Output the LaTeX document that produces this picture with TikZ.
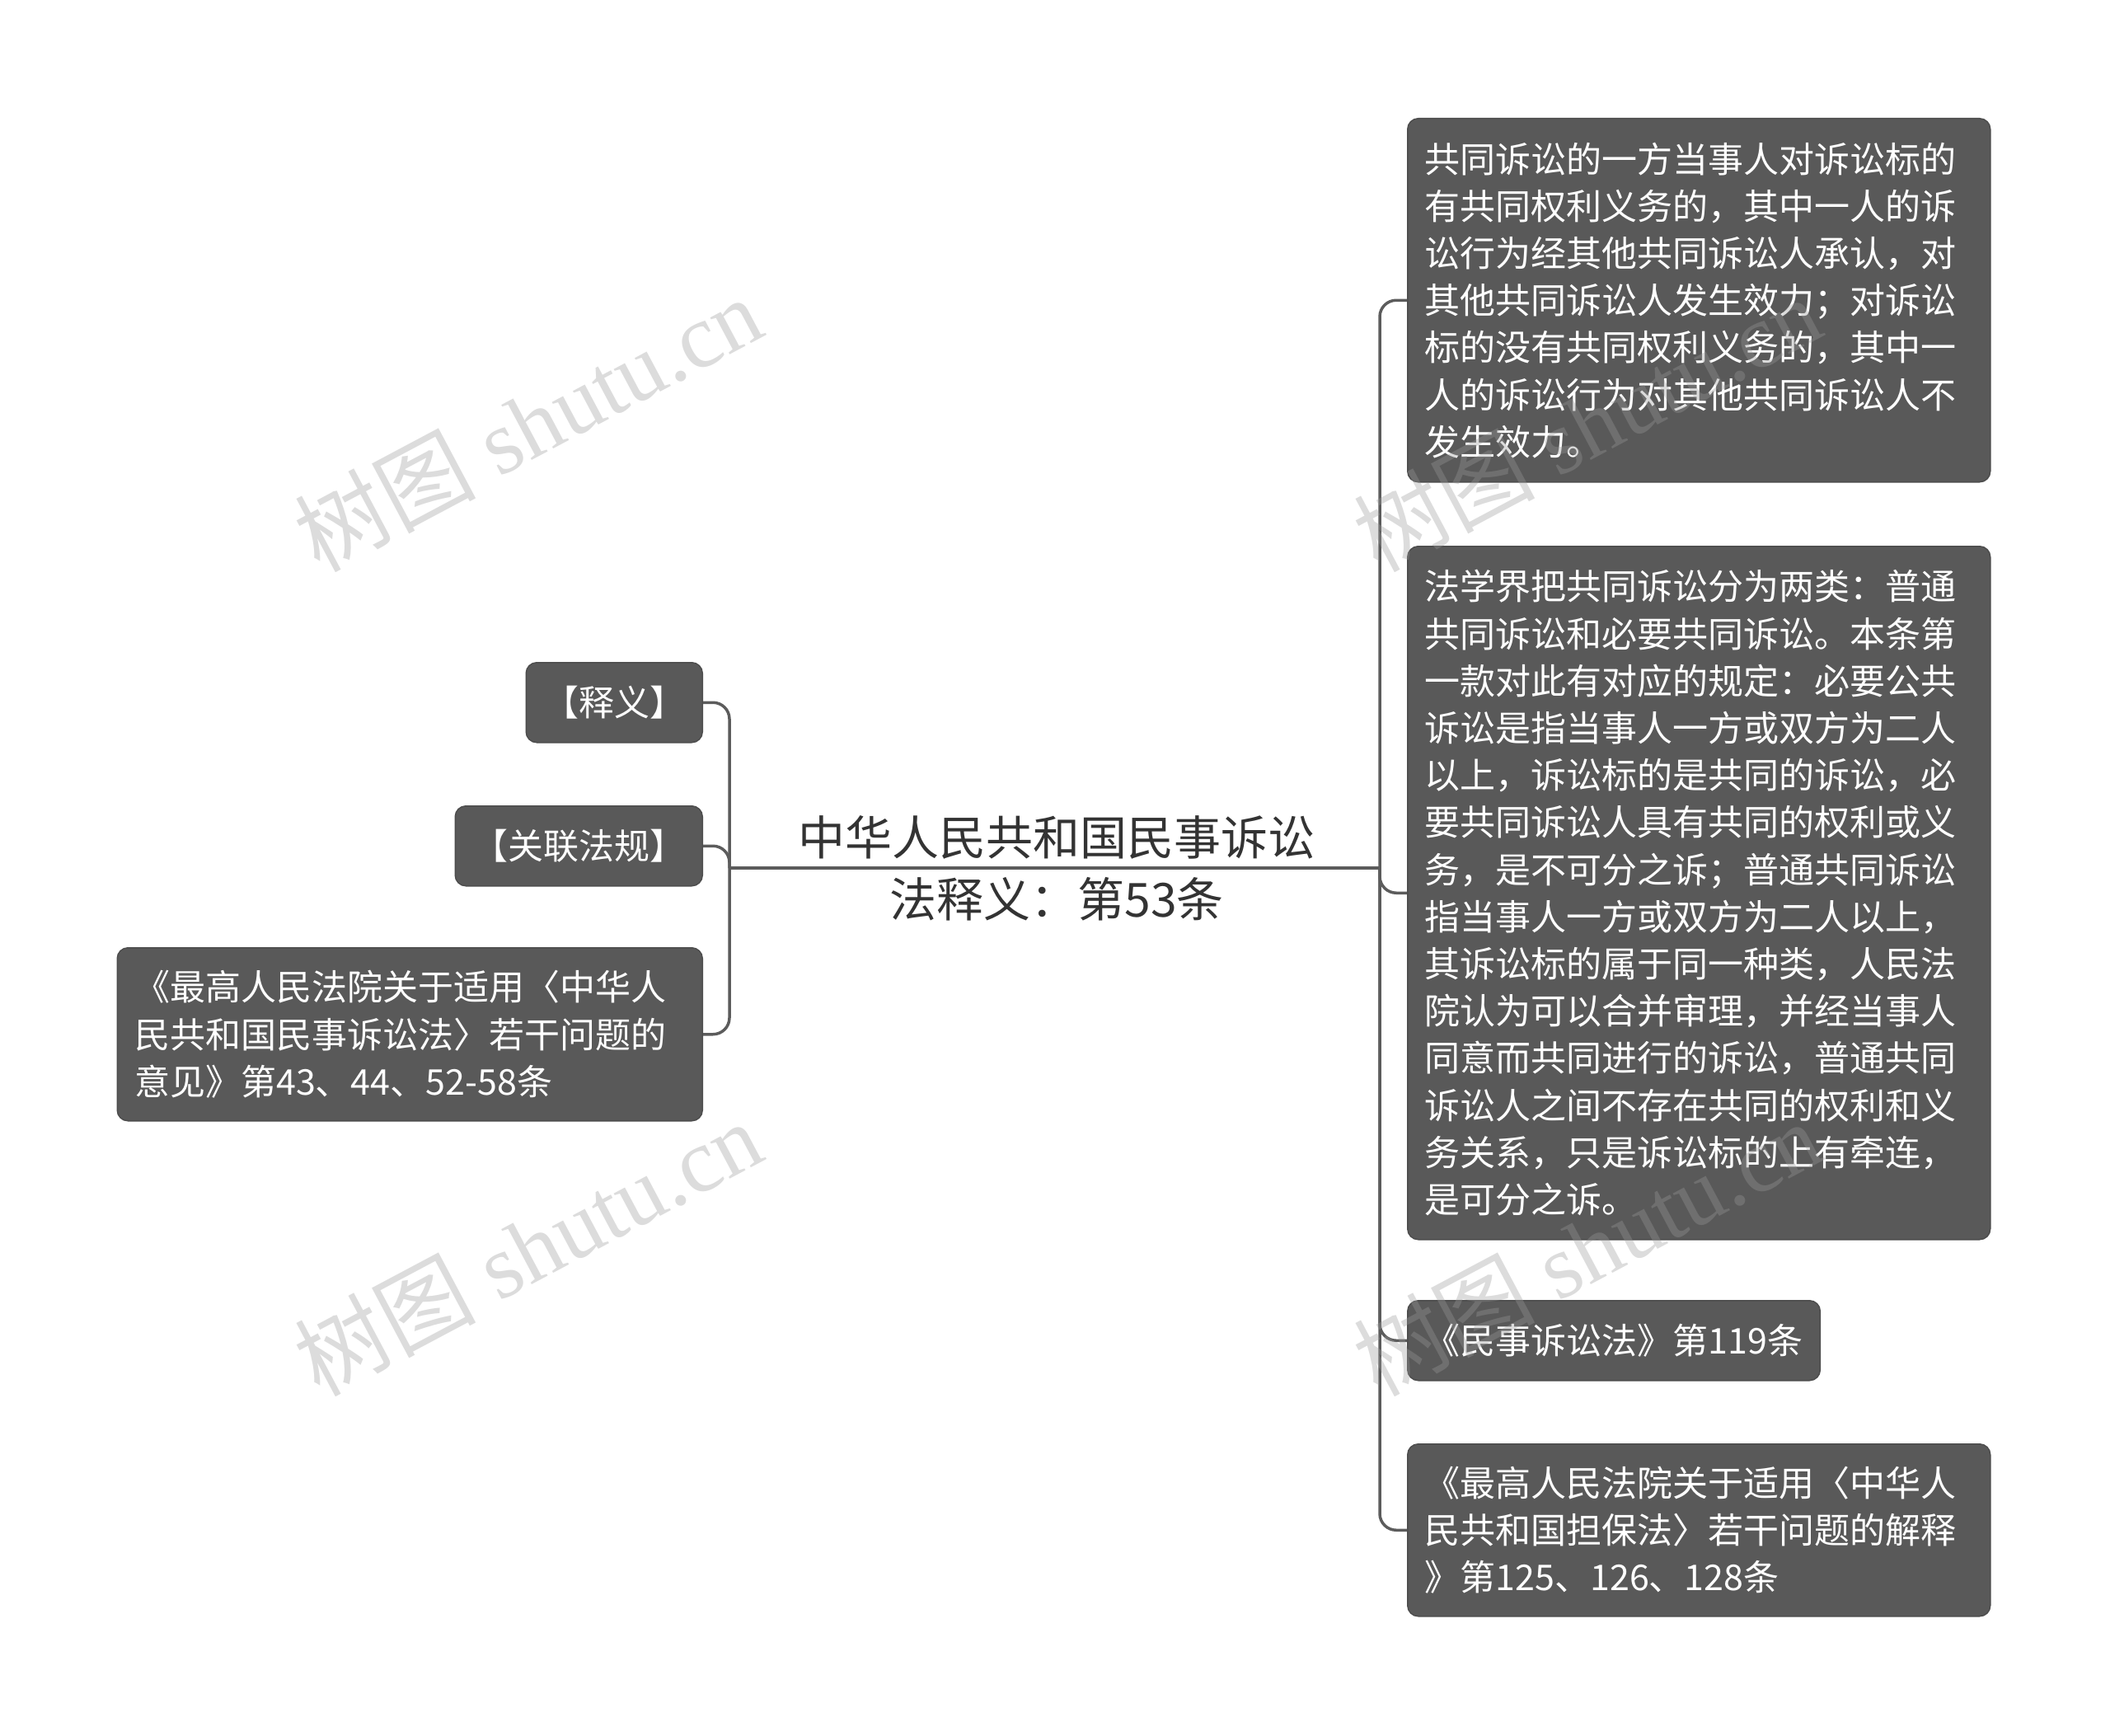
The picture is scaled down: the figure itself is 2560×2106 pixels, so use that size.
\documentclass[tikz,border=0pt]{standalone}
\usepackage{fontspec}
\setmainfont{Liberation Serif}
\newfontfamily\cjk{Noto Sans CJK SC}
\usetikzlibrary{positioning}
\definecolor{boxgray}{HTML}{595959}
\definecolor{boxedge}{HTML}{4D4D4D}
\definecolor{linegray}{HTML}{5C5C5C}
\definecolor{rootink}{HTML}{333333}
\definecolor{markgray}{HTML}{9A9A9A}

\begin{document}
\begin{tikzpicture}[x=1pt,y=-1pt,
  leaf/.style={draw=boxedge,line width=1.5pt,fill=boxgray,rounded corners=13pt,
    text=white,font=\cjk\fontsize{43}{57.2}\selectfont,inner xsep=21pt,inner ysep=0pt,align=left},
  wide/.style={leaf,text width=665pt},
  link/.style={draw=linegray,line width=3.5pt,rounded corners=20pt},
  wmark/.style={text=markgray,opacity=0.35,rotate=28,font=\fontsize{110}{110}\selectfont}]
\useasboundingbox (0,0) rectangle (2560,2106);

% root
\node[font=\cjk\fontsize{57}{75}\selectfont,text=rootink,align=center] (root) at (1282,1053)
  {中华人民共和国民事诉讼\\法释义：第53条};
\coordinate (lj) at (885,1053);
\coordinate (rj) at (1674,1053);

% left side
\node[leaf,anchor=north east,minimum height=97pt] (l1) at (853,803) {【释义】};
\node[leaf,anchor=north east,minimum height=97pt] (l2) at (853,977) {【关联法规】};
\node[leaf,anchor=north east,text width=668pt,minimum height=210pt] (l3) at (853,1149)
  {《最高人民法院关于适用〈中华人\\民共和国民事诉讼法〉若干问题的\\意见》第43、44、52-58条};

% right side
\node[wide,anchor=north west,minimum height=441pt] (r1) at (1707,143)
  {共同诉讼的一方当事人对诉讼标的\\有共同权利义务的，其中一人的诉\\讼行为经其他共同诉讼人承认，对\\其他共同诉讼人发生效力；对诉讼\\标的没有共同权利义务的，其中一\\人的诉讼行为对其他共同诉讼人不\\发生效力。};
\node[wide,anchor=north west,minimum height=841pt] (r2) at (1707,662)
  {法学界把共同诉讼分为两类：普通\\共同诉讼和必要共同诉讼。本条第\\一款对此有对应的规定：必要公共\\诉讼是指当事人一方或双方为二人\\以上，诉讼标的是共同的诉讼，必\\要共同诉讼人具有共同的权利或义\\务，是不可分之诉；普通共同诉讼\\指当事人一方或双方为二人以上，\\其诉讼标的属于同一种类，人民法\\院认为可以合并审理，并经当事人\\同意而共同进行的诉讼，普通共同\\诉讼人之间不存在共同的权利和义\\务关系，只是诉讼标的上有牵连，\\是可分之诉。};
\node[leaf,anchor=north west,minimum height=97pt] (r3) at (1707,1577) {《民事诉讼法》第119条};
\node[wide,anchor=north west,minimum height=209pt] (r4) at (1707,1751)
  {《最高人民法院关于适用〈中华人\\民共和国担保法〉若干问题的解释\\》第125、126、128条};

% connectors
\draw[link] (lj) -- (rj);
\draw[link] (lj) |- (l1.east);
\draw[link] (lj) |- (l2.east);
\draw[link] (lj) |- (l3.east);
\draw[link] (rj) |- (r1.west);
\draw[link] (rj) |- (r2.west);
\draw[link] (rj) |- (r3.west);
\draw[link] (rj) |- (r4.west);

% watermarks
\node[wmark] (wm1) at (640,514) {{\cjk 树图} shutu.cn};
\node[wmark] (wm2) at (1925,514) {{\cjk 树图} shutu.cn};
\node[wmark] (wm3) at (640,1514) {{\cjk 树图} shutu.cn};
\node[wmark] (wm4) at (1925,1514) {{\cjk 树图} shutu.cn};
\end{tikzpicture}
\end{document}
